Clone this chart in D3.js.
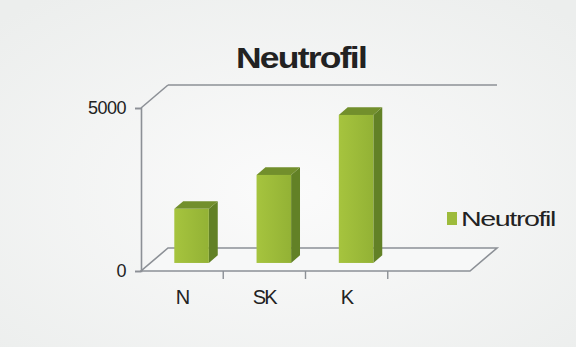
<!DOCTYPE html>
<html><head><meta charset="utf-8">
<script src="https://cdn.jsdelivr.net/npm/d3@7"></script>
<style>
html,body{margin:0;padding:0;background:#f3f4f3;}
svg{display:block;}
text{font-family:"Liberation Sans",Arial,sans-serif;fill:#222;}
</style></head>
<body><svg id="c" width="576" height="347"></svg>
<script>
const title = "Neutrofil";
const seriesName = "Neutrofil";
const categories = ["N", "SK", "K"];
const values = [1660, 2700, 4540];
const yTicks = [0, 5000];

const W = 576, H = 347;
const svg = d3.select("#c");
const defs = svg.append("defs");
const bg = defs.append("radialGradient").attr("id","bg").attr("cx","50%").attr("cy","55%").attr("r","70%");
bg.append("stop").attr("offset","0%").attr("stop-color","#fbfbfb");
bg.append("stop").attr("offset","100%").attr("stop-color","#eceeed");
svg.append("rect").attr("width",W).attr("height",H).attr("fill","url(#bg)");

const fx0 = 141, fx1 = 470, fy0 = 271, fyTop = 108;
const DX = 27, DY = -23;
const x = d3.scaleBand().domain([...categories, "_"]).range([fx0, fx1]).paddingInner(0).paddingOuter(0);
const y = d3.scaleLinear().domain([0, 5000]).range([fy0, fyTop]);
const axisColor = "#8c9096";

const g = svg.append("g");
const line = (x1,y1,x2,y2)=>g.append("line").attr("x1",x1).attr("y1",y1).attr("x2",x2).attr("y2",y2)
  .attr("stroke",axisColor).attr("stroke-width",1.6);
g.append("path").attr("d",`M${fx0},${fy0}L${fx1},${fy0}L${fx1+DX},${fy0+DY}L${fx0+DX},${fy0+DY}Z`)
  .attr("fill","#f7f8f8").attr("stroke",axisColor).attr("stroke-width",1.6);
line(fx0, y(5000), fx0+DX, y(5000)+DY);
line(fx0+DX, y(5000)+DY, fx1+DX, y(5000)+DY);

// y axis
const yAxis = d3.axisLeft(y).tickValues(yTicks).tickSize(6).tickPadding(9).tickFormat(d3.format("d"));
const ya = svg.append("g").attr("transform",`translate(${fx0},0)`).call(yAxis);
ya.select(".domain").attr("stroke",axisColor).attr("stroke-width",1.6);
ya.selectAll(".tick line").attr("stroke",axisColor).attr("stroke-width",1.6);
ya.selectAll(".tick text").attr("font-size",18).attr("fill","#222").attr("letter-spacing",-0.5)
  .style("font-family","Liberation Sans, Arial, sans-serif");

// x axis
const xAxis = d3.axisBottom(x).tickSize(0).tickPadding(19).tickFormat(d=>d==="_"?"":d);
const xa = svg.append("g").attr("transform",`translate(0,${fy0})`).call(xAxis);
xa.select(".domain").remove();
xa.selectAll(".tick text").attr("font-size",20).attr("fill","#222").attr("letter-spacing",-1.8)
  .style("font-family","Liberation Sans, Arial, sans-serif");
xa.selectAll(".tick").filter(d=>d!==categories[0]).append("line")
  .attr("x1",-x.bandwidth()/2).attr("x2",-x.bandwidth()/2).attr("y1",0).attr("y2",8)
  .attr("stroke",axisColor).attr("stroke-width",1.4);

// bars
const bw = x.bandwidth()*0.42;
const d0 = 0.35, d1 = 0.68;
const gradF = defs.append("linearGradient").attr("id","gf").attr("x1","0").attr("x2","1");
gradF.append("stop").attr("offset","0%").attr("stop-color","#a6c43e");
gradF.append("stop").attr("offset","100%").attr("stop-color","#93b235");
const bars = svg.append("g").selectAll("g").data(categories.map((c,i)=>({c,v:values[i]}))).join("g");
bars.each(function(d){
  const gg = d3.select(this);
  const cx = x(d.c) + x.bandwidth()/2;
  const xl = cx - bw/2 + DX*d0, xr = cx + bw/2 + DX*d0;
  const yb = y(0) + DY*d0, yt = y(d.v) + DY*d0;
  const ox = DX*(d1-d0), oy = DY*(d1-d0);
  gg.append("path").attr("d",`M${xr},${yb}L${xr+ox},${yb+oy}L${xr+ox},${yt+oy}L${xr},${yt}Z`).attr("fill","#628126");
  gg.append("path").attr("d",`M${xl},${yt}L${xr},${yt}L${xr+ox},${yt+oy}L${xl+ox},${yt+oy}Z`).attr("fill","#728f2c");
  gg.append("rect").attr("x",xl).attr("y",yt).attr("width",xr-xl).attr("height",yb-yt).attr("fill","url(#gf)");
});

// title
svg.append("text").attr("x",301).attr("y",68).attr("text-anchor","middle")
  .attr("font-size",30).attr("font-weight","bold").attr("letter-spacing",-1.5)
  .attr("textLength",130).attr("lengthAdjust","spacingAndGlyphs").attr("fill","#2a2a2a").text(title);

// legend
const lg = svg.append("g").attr("transform","translate(447,212)");
lg.append("rect").attr("x",0).attr("y",0).attr("width",10).attr("height",13).attr("fill","#9dbb3b");
lg.append("text").attr("x",14).attr("y",14).attr("font-size",20).attr("letter-spacing",-1)
  .attr("textLength",94).attr("lengthAdjust","spacingAndGlyphs").attr("fill","#222").text(seriesName);
</script></body></html>
